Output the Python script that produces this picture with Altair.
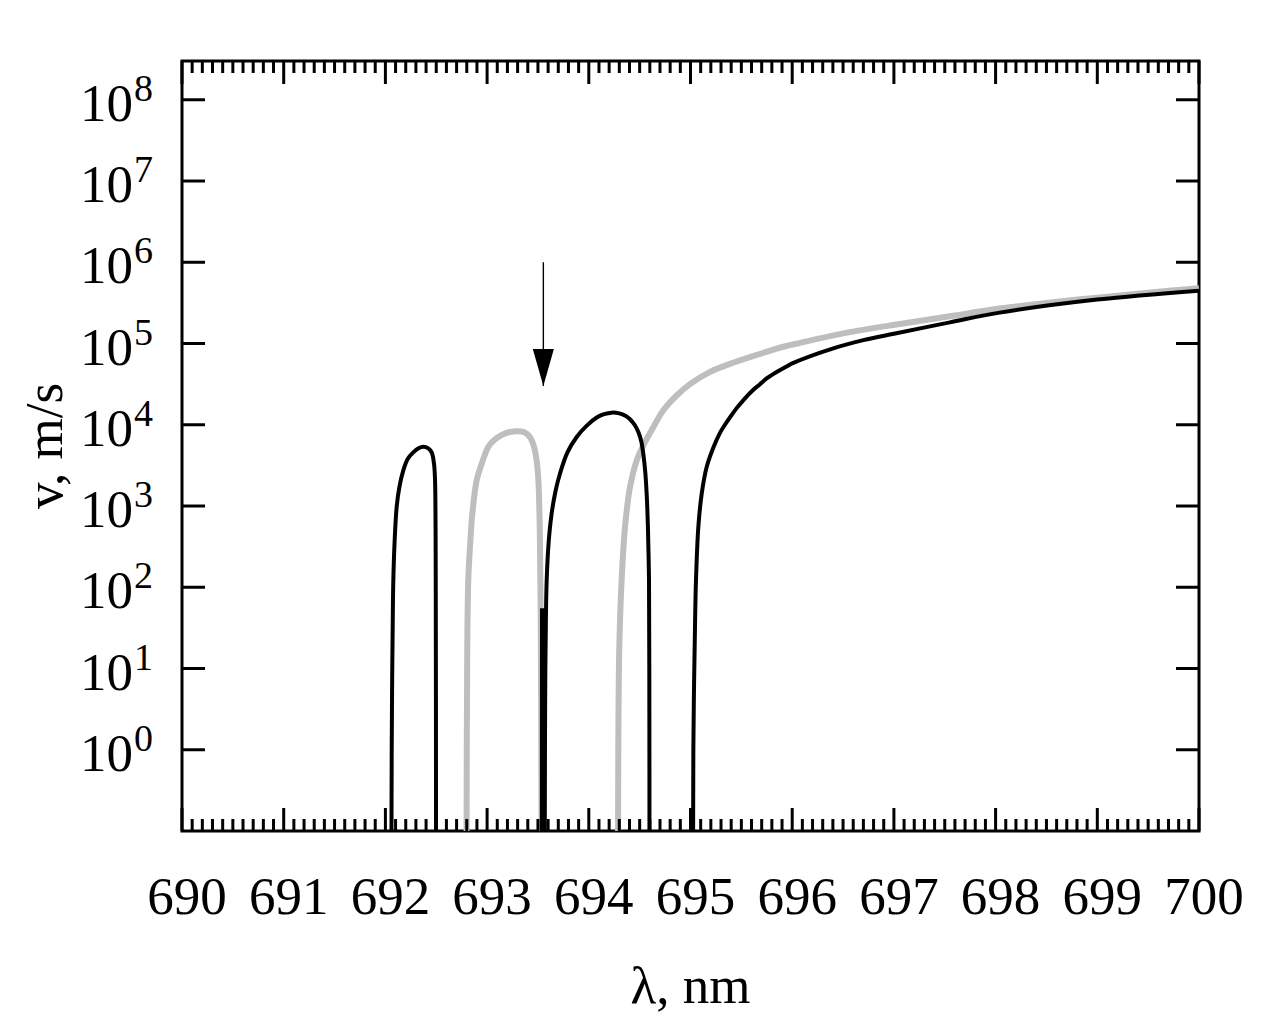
import altair as alt
import pandas as pd

# ---------------- data ----------------
# black curve, first arch
b1_lambda = [692.058, 692.062, 692.066, 692.070, 692.078, 692.092, 692.111, 692.137, 692.176,
             692.219, 692.274, 692.325, 692.373, 692.422, 692.455, 692.478, 692.488, 692.493,
             692.495, 692.497, 692.498]
b1_v = [0.01, 1, 6.3, 20, 123, 400, 980, 1700, 2750, 3800, 4570, 5130, 5370, 5130, 4570, 3310,
        2090, 631, 123, 3.2, 0.01]

# grey curve, arch
g1_lambda = [692.797, 692.800, 692.805, 692.815, 692.832, 692.855, 692.898, 692.947, 693.012,
             693.060, 693.110, 693.170, 693.225, 693.291, 693.345, 693.389, 693.430, 693.461,
             693.485, 693.504, 693.515, 693.520, 693.527, 693.533, 693.537]
g1_v = [0.01, 1, 18.6, 123, 316, 813, 2090, 3310, 5370, 6310, 7080, 7760, 8130, 8320, 8220,
        7760, 6760, 5370, 3800, 2090, 794, 316, 48, 1, 0.01]

# black narrow spike
b2_lambda = [693.538, 693.540, 693.546, 693.548]
b2_v = [0.01, 52, 52, 0.01]

# black curve, second arch
b3_lambda = [693.566, 693.569, 693.572, 693.578, 693.586, 693.605, 693.635, 693.672, 693.717,
             693.790, 693.881, 693.980, 694.078, 694.150, 694.225, 694.300, 694.360, 694.405,
             694.450, 694.487, 694.515, 694.536, 694.555, 694.569, 694.580, 694.585, 694.592,
             694.595, 694.597]
b3_v = [0.01, 1, 7.2, 40, 123, 355, 813, 1510, 2510, 4570, 7080, 9770, 12300, 13500, 14100,
        13800, 12900, 11700, 10000, 8130, 6310, 4370, 2630, 1410, 631, 347, 123, 10, 0.01]

# grey curve, rising branch
g2_lambda = [694.287, 694.290, 694.300, 694.323, 694.356, 694.405, 694.471, 694.550, 694.634,
             694.733, 694.864, 694.995, 695.192, 695.388, 695.651, 695.913, 696.077, 696.568,
             697.060, 697.550, 698.040, 698.500, 699.000, 699.500, 700.000]
g2_v = [0.01, 1, 18.6, 123, 550, 1700, 3630, 6030, 9330, 15100, 22900, 31600, 44700, 56200,
        72400, 91200, 102000, 138000, 174000, 216000, 269000, 316000, 367000, 422000, 479000]

# black curve, rising branch
b4_lambda = [695.025, 695.028, 695.035, 695.044, 695.054, 695.077, 695.110, 695.159, 695.225,
             695.290, 695.339, 695.388, 695.450, 695.519, 695.600, 695.683, 695.749, 695.847,
             695.962, 696.000, 696.404, 696.700, 697.000, 697.550, 698.040, 699.000, 700.000]
b4_v = [0.01, 1, 6.3, 32, 123, 550, 1410, 3020, 5250, 7940, 10000, 12300, 15800, 20000, 25700,
        31600, 37200, 44700, 53700, 56900, 87100, 110000, 132000, 182000, 240000, 347000,
        447000]

# arrow annotation
arrow_lambda = [693.553]
arrow_from = [1e6]
arrow_to = [3e4]

# axes
x_major = [690, 691, 692, 693, 694, 695, 696, 697, 698, 699, 700]
x_labels = ["690", "691", "692", "693", "694", "695", "696", "697", "698", "699", "700"]
x_minor = [round(690 + i / 10, 1) for i in range(101) if i % 10 != 0]
y_exp = [0, 1, 2, 3, 4, 5, 6, 7, 8]
y_major = [10.0 ** e for e in y_exp]
x_title = "λ, nm"
y_title = "v, m/s"

# ---------------- tables ----------------
def seg(name, lam, v):
    return pd.DataFrame({"lam": lam, "v": v, "seg": name})

black = pd.concat([seg("b1", b1_lambda, b1_v), seg("b3", b3_lambda, b3_v),
                   seg("b4", b4_lambda, b4_v)], ignore_index=True)
spike = seg("b2", b2_lambda, b2_v)
grey = pd.concat([seg("g1", g1_lambda, g1_v), seg("g2", g2_lambda, g2_v)], ignore_index=True)

xmaj_df = pd.DataFrame({"t": x_major, "label": x_labels})
xmin_df = pd.DataFrame({"t": x_minor})
y_df = pd.DataFrame({"v": y_major, "e": [str(e) for e in y_exp]})
arrow_df = pd.DataFrame({"lam": arrow_lambda, "v": arrow_from, "v2": arrow_to})

W, H = 1017, 770
FONT = "Liberation Serif"
xs = alt.Scale(domain=[690, 700], nice=False, zero=False)
ys = alt.Scale(type="log", domain=[0.1, 3e8], nice=False)

grid_axis_x = alt.Axis(values=x_major, grid=True, gridDash=[1, 3], gridColor="#bdbdbd",
                       gridWidth=1, labels=False, ticks=False, domain=False, title=None)
grid_axis_y = alt.Axis(values=y_major, grid=True, gridDash=[1, 3], gridColor="#bdbdbd",
                       gridWidth=1, labels=False, ticks=False, domain=False, title=None)

grey_layer = alt.Chart(grey).mark_line(color="#bebebe", strokeWidth=6, clip=True,
                                       interpolate="catmull-rom").encode(
    x=alt.X("lam:Q", scale=xs, axis=grid_axis_x),
    y=alt.Y("v:Q", scale=ys, axis=grid_axis_y),
    detail="seg:N",
    order="lam:Q",
)
black_layer = alt.Chart(black).mark_line(color="black", strokeWidth=4, clip=True,
                                         interpolate="catmull-rom").encode(
    x=alt.X("lam:Q", scale=xs, axis=None),
    y=alt.Y("v:Q", scale=ys, axis=None),
    detail="seg:N",
    order="lam:Q",
)
spike_layer = alt.Chart(spike).mark_line(color="black", strokeWidth=4, clip=True).encode(
    x=alt.X("lam:Q", scale=xs, axis=None),
    y=alt.Y("v:Q", scale=ys, axis=None),
    order="lam:Q",
)

# arrow
arrow_shaft = alt.Chart(arrow_df).mark_rule(color="black", strokeWidth=1.4).encode(
    x=alt.X("lam:Q", scale=xs, axis=None),
    y=alt.Y("v:Q", scale=ys, axis=None),
    y2="v2:Q",
)
arrow_head = alt.Chart(arrow_df).mark_point(
    shape="M-0.57,-2L0.57,-2L0,0Z", size=1369, filled=True, color="black",
    opacity=1, strokeWidth=0,
).encode(
    x=alt.X("lam:Q", scale=xs, axis=None),
    y=alt.Y("v2:Q", scale=ys, axis=None),
)

# inward ticks
def xticks(df, length):
    bottom = alt.Chart(df).mark_rule(color="black", strokeWidth=3).encode(
        x=alt.X("t:Q", scale=xs, axis=None), y=alt.value(H), y2=alt.value(H - length))
    top = alt.Chart(df).mark_rule(color="black", strokeWidth=3).encode(
        x=alt.X("t:Q", scale=xs, axis=None), y=alt.value(0), y2=alt.value(length))
    return bottom + top

ytick_left = alt.Chart(y_df).mark_rule(color="black", strokeWidth=3).encode(
    y=alt.Y("v:Q", scale=ys, axis=None), x=alt.value(0), x2=alt.value(23))
ytick_right = alt.Chart(y_df).mark_rule(color="black", strokeWidth=3).encode(
    y=alt.Y("v:Q", scale=ys, axis=None), x=alt.value(W), x2=alt.value(W - 23))

# tick labels
xlab = alt.Chart(xmaj_df).mark_text(font=FONT, fontSize=53, align="center",
                                    baseline="alphabetic", dx=5, color="black").encode(
    x=alt.X("t:Q", scale=xs, axis=None), y=alt.value(H + 83), text="label:N")
ylab_base = alt.Chart(y_df).mark_text(font=FONT, fontSize=53, align="right",
                                      baseline="alphabetic", dy=21, color="black",
                                      text="10").encode(
    y=alt.Y("v:Q", scale=ys, axis=None), x=alt.value(-49))
ylab_exp = alt.Chart(y_df).mark_text(font=FONT, fontSize=38, align="left",
                                     baseline="alphabetic", dy=1, color="black").encode(
    y=alt.Y("v:Q", scale=ys, axis=None), x=alt.value(-48), text="e:N")

# axis titles
title_df = pd.DataFrame({"xt": [x_title], "yt": [y_title]})
xtitle = alt.Chart(title_df).mark_text(font=FONT, fontSize=53, align="center",
                                       baseline="alphabetic", color="black").encode(
    x=alt.value(W / 2), y=alt.value(H + 172), text="xt:N")
ytitle = alt.Chart(title_df).mark_text(font=FONT, fontSize=53, align="center",
                                       baseline="alphabetic", angle=270, color="black").encode(
    x=alt.value(-120), y=alt.value(H / 2), text="yt:N")

chart = alt.layer(
    grey_layer, black_layer, spike_layer, arrow_shaft, arrow_head,
    xticks(xmaj_df, 23), xticks(xmin_df, 12), ytick_left, ytick_right,
    xlab, ylab_base, ylab_exp, xtitle, ytitle,
).properties(
    width=W, height=H,
    autosize=alt.AutoSizeParams(type="none"),
    padding={"left": 174, "top": 53, "right": 55, "bottom": 185},
    background="white",
).configure_view(stroke="black", strokeWidth=3)

chart.save("out.html", embed_options={"renderer": "svg", "actions": False})
